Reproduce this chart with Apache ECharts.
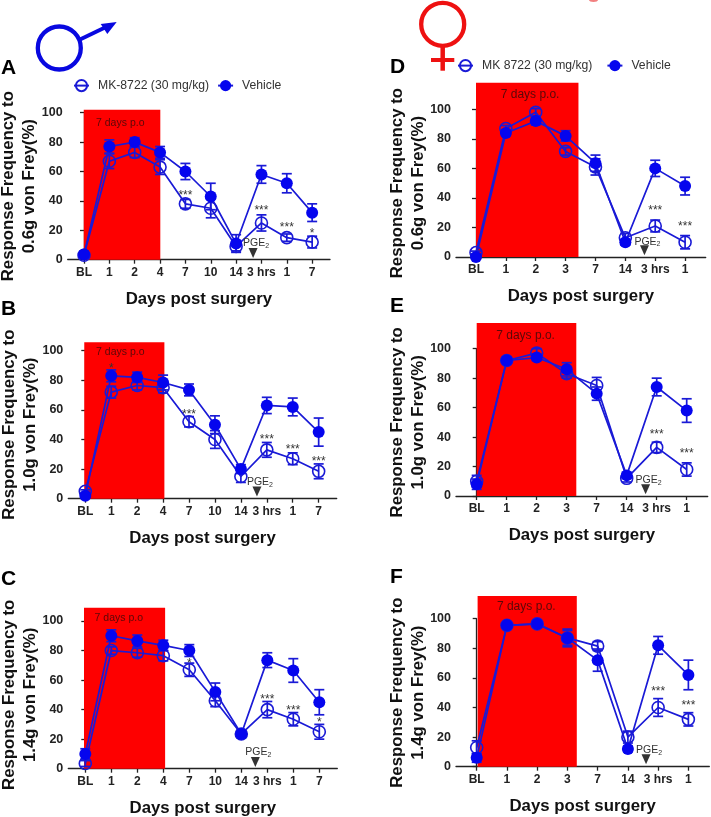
<!DOCTYPE html>
<html lang="en">

<head>
  <meta charset="UTF-8">
  <title>Response frequency</title>
  <script src="https://cdn.jsdelivr.net/npm/echarts@6/dist/echarts.min.js"></script>
  <style>
    * {
      margin: 0;
      padding: 0;
    }

    #main {
      width: 711px;
      height: 817px;
    }
  </style>
</head>

<body>
  <div id="main"></div>
</body>

<script>
  // x labels
  const daysMale = ['BL', '1', '2', '4', '7', '10', '14', '3 hrs', '1', '7'];
  const daysFemale = ['BL', '1', '2', '3', '7', '14', '3 hrs', '1'];

  // panel A
  const mkA = [3, 67, 73, 63, 38, 35, 9, 25, 15, 12];
  const mkErrA = [1, 5, 3.5, 5, 3, 6.5, 3, 5.5, 2.5, 4];
  const vehA = [3.5, 77, 80, 73, 60, 43, 11, 58, 52, 32];
  const vehErrA = [1, 4.5, 3, 4, 5.5, 9, 6, 6, 6.5, 6];
  const starsA = [[4, 45.5, '***'], [7, 35.6, '***'], [8, 24, '***'], [9, 19.5, '*']];

  // panel B
  const mkB = [5, 72, 76.5, 75, 52, 40, 15, 33, 27, 18.5];
  const mkErrB = [1, 4, 3, 3.5, 3.5, 6, 4, 5, 4, 5];
  const vehB = [2, 83, 82, 78.5, 73.5, 50, 20, 63, 62, 45];
  const vehErrB = [1, 4, 3.5, 5, 4, 6, 3, 5.5, 6, 9.5];
  const starsB = [[1, 90, '*'], [4, 59, '***'], [7, 42, '***'], [8, 35, '***'], [9, 27, '***']];

  // panel C
  const mkC = [3.5, 80, 78.5, 76.5, 67, 46, 23.5, 40, 33.5, 25];
  const mkErrC = [2, 2.5, 3, 3.5, 4.5, 4, 2.5, 5.5, 4.5, 5];
  const vehC = [10, 90, 86.5, 83.5, 80, 52, 23.5, 73.5, 66.5, 45];
  const vehErrC = [3.5, 4, 4, 3.5, 4, 6, 2, 5, 8, 8.5];
  const starsC = [[4, 73, '*'], [7, 49, '***'], [8, 41, '***'], [9, 33, '*']];

  // panel D
  const mkD = [3, 87, 98, 71.5, 61, 13, 21, 10];
  const mkErrD = [1, 2, 2.5, 2.5, 5.5, 3, 4, 4.5];
  const vehD = [0, 84, 92, 82, 63.5, 10, 60, 48];
  const vehErrD = [1, 2, 2.5, 3.5, 5.5, 2, 5.5, 6];
  const starsD = [[6, 33.6, '***'], [7, 22.3, '***']];

  // panel E
  const mkE = [10, 92, 97, 83, 75, 12, 33, 18];
  const mkErrE = [4, 1.5, 3, 3, 5.5, 2.5, 3.5, 4.5];
  const vehE = [8, 92, 94, 86, 69.5, 14, 74, 58];
  const vehErrE = [3.5, 2, 2, 4.5, 4.5, 2, 6, 8];
  const starsE = [[6, 43.4, '***'], [7, 31, '***']];

  // panel F
  const mkF = [13, 95.5, 96.5, 87, 81.5, 20, 40, 32];
  const mkErrF = [4.5, 2, 2, 6, 3, 4, 6, 4.5];
  const vehF = [6, 95.5, 96.5, 87, 72, 12, 82, 62];
  const vehErrF = [3, 2, 2, 5, 7.5, 2, 6, 10];
  const starsF = [[6, 52.7, '***'], [7, 43.2, '***']];

  // red block [from, to, top] and its caption [x, y]
  const redA = [-0.01, 3.01, 102], noteA = [1.43, 92.7];
  const redB = [-0.04, 3.05, 105.7], noteB = [1.35, 99.3];
  const redC = [-0.05, 3.07, 109], noteC = [1.29, 101.8];
  const redD = [0, 3.43, 118], noteD = [1.81, 109.7];
  const redE = [0, 3.32, 117.5], noteE = [1.63, 108.8];
  const redF = [0.03, 3.31, 115.3], noteF = [1.64, 108];

  // PGE2 marker [x, text y, triangle y]
  const pgeA = [6.67, 11, 4.5];
  const pgeB = [6.62, 11, 4.8];
  const pgeC = [6.54, 11, 4.5];
  const pgeD = [5.64, 10.4, 4.5];
  const pgeE = [5.63, 10.6, 4.5];
  const pgeF = [5.6, 11, 5];

  const COLOR_LINE = '#1a1ad6';
  const COLOR_FILL = '#0505ee';
  const FONT = '"Liberation Sans", Arial, sans-serif';

  // pixel box of each plot, bl = where BL sits, step = px per category
  const panels = [
    { l: 67.7, r: 330, t: 112.7, b: 259.7, bl: 84, step: 25.35, days: daysMale, mk: mkA, mkErr: mkErrA, veh: vehA, vehErr: vehErrA, stars: starsA, red: redA, note: noteA, noteText: '7 days p.o', noteSize: 10.5, pge: pgeA, g: '0.6g', mkName: 'MK-8722 (30 mg/kg)' },
    { l: 68.3, r: 336.7, t: 350.7, b: 498.7, bl: 85.3, step: 25.93, days: daysMale, mk: mkB, mkErr: mkErrB, veh: vehB, vehErr: vehErrB, stars: starsB, red: redB, note: noteB, noteText: '7 days p.o', noteSize: 10.5, pge: pgeB, g: '1.0g', mkName: 'MK-8722 (30 mg/kg)' },
    { l: 68.3, r: 337.3, t: 621, b: 768.7, bl: 85.3, step: 26, days: daysMale, mk: mkC, mkErr: mkErrC, veh: vehC, vehErr: vehErrC, stars: starsC, red: redC, note: noteC, noteText: '7 days p.o', noteSize: 10.5, pge: pgeC, g: '1.4g', mkName: 'MK-8722 (30 mg/kg)' },
    { l: 456, r: 705.7, t: 109.3, b: 257, bl: 476, step: 29.87, days: daysFemale, mk: mkD, mkErr: mkErrD, veh: vehD, vehErr: vehErrD, stars: starsD, red: redD, note: noteD, noteText: '7 days p.o.', noteSize: 12, pge: pgeD, g: '0.6g', mkName: 'MK 8722 (30 mg/kg)' },
    { l: 456, r: 707.7, t: 348.7, b: 496, bl: 476.7, step: 30, days: daysFemale, mk: mkE, mkErr: mkErrE, veh: vehE, vehErr: vehErrE, stars: starsE, red: redE, note: noteE, noteText: '7 days p.o.', noteSize: 12, pge: pgeE, g: '1.0g', mkName: 'MK 8722 (30 mg/kg)' },
    { l: 456, r: 709.3, t: 618.7, b: 766.7, bl: 476.7, step: 30.24, days: daysFemale, mk: mkF, mkErr: mkErrF, veh: vehF, vehErr: vehErrF, stars: starsF, red: redF, note: noteF, noteText: '7 days p.o.', noteSize: 12, pge: pgeF, g: '1.4g', mkName: 'MK 8722 (30 mg/kg)' }
  ];

  const grid = [], xAxis = [], yAxis = [], series = [];

  // error bars with caps
  function errorSeries(i, vals, errs, capW) {
    return {
      type: 'custom',
      xAxisIndex: i,
      yAxisIndex: i,
      z: 3,
      silent: true,
      data: vals.map((v, k) => [k, v - errs[k], v + errs[k]]),
      renderItem: function (params, api) {
        const lo = api.coord([api.value(0), api.value(1)]);
        const hi = api.coord([api.value(0), api.value(2)]);
        const st = { stroke: COLOR_LINE, lineWidth: 1.7, fill: 'none' };
        return {
          type: 'group',
          children: [
            { type: 'line', shape: { x1: lo[0], y1: lo[1], x2: hi[0], y2: hi[1] }, style: st },
            { type: 'line', shape: { x1: lo[0] - capW, y1: lo[1], x2: lo[0] + capW, y2: lo[1] }, style: st },
            { type: 'line', shape: { x1: hi[0] - capW, y1: hi[1], x2: hi[0] + capW, y2: hi[1] }, style: st }
          ]
        };
      }
    };
  }

  panels.forEach(function (p, i) {
    const ticks = p.days.map((d, k) => k);
    // outerBoundsMode none, the y names would squeeze the grid otherwise
    grid.push({ left: p.l, top: p.t, width: p.r - p.l, height: p.b - p.t, outerBoundsMode: 'none' });
    xAxis.push({
      type: 'value',
      gridIndex: i,
      min: (p.l - p.bl) / p.step,
      max: (p.r - p.bl) / p.step,
      splitLine: { show: false },
      axisLine: { onZero: false, lineStyle: { color: '#222', width: 1.3 } },
      axisTick: { customValues: ticks, length: 4, lineStyle: { color: '#222', width: 1.3 } },
      axisLabel: {
        customValues: ticks,
        formatter: v => p.days[v],
        margin: 7,
        color: '#222',
        fontFamily: FONT,
        fontWeight: 'bold',
        fontSize: 12
      },
      name: 'Days post surgery',
      nameLocation: 'middle',
      nameGap: 31,
      nameTextStyle: { color: '#111', fontFamily: FONT, fontWeight: 'bold', fontSize: 16.8 }
    });
    yAxis.push({
      type: 'value',
      gridIndex: i,
      min: 0,
      max: 100,
      interval: 20,
      splitLine: { show: false },
      axisLine: { show: true, lineStyle: { color: '#222', width: 1.3 } },
      axisTick: { show: true, length: 4, lineStyle: { color: '#222', width: 1.3 } },
      axisLabel: { margin: 5, color: '#222', fontFamily: FONT, fontWeight: 'bold', fontSize: 12.5 },
      name: 'Response Frequency to\n' + p.g + ' von Frey(%)',
      nameLocation: 'middle',
      nameRotate: 90,
      nameGap: 27.5,
      nameMoveOverlap: false,
      nameTextStyle: { color: '#111', fontFamily: FONT, fontWeight: 'bold', fontSize: 16.8, lineHeight: 21 }
    });

    // red block goes above the axis top, so custom with no clip
    series.push({
      type: 'custom',
      xAxisIndex: i,
      yAxisIndex: i,
      z: 1,
      silent: true,
      data: [p.red],
      renderItem: function (params, api) {
        const a = api.coord([api.value(0), api.value(2)]);
        const b = api.coord([api.value(1), 0]);
        return { type: 'rect', shape: { x: a[0], y: a[1], width: b[0] - a[0], height: b[1] - a[1] }, style: { fill: '#fe0000' } };
      }
    });

    series.push(errorSeries(i, p.mk, p.mkErr, 5));
    series.push(errorSeries(i, p.veh, p.vehErr, 5));

    series.push({
      name: p.mkName,
      type: 'line',
      xAxisIndex: i,
      yAxisIndex: i,
      z: 4,
      clip: false,
      silent: true,
      symbol: 'circle',
      symbolSize: 12,
      lineStyle: { color: COLOR_LINE, width: 1.7 },
      itemStyle: { color: 'transparent', borderColor: COLOR_LINE, borderWidth: 1.6 },
      data: p.mk.map((v, k) => [k, v])
    });
    series.push({
      name: 'Vehicle',
      type: 'line',
      xAxisIndex: i,
      yAxisIndex: i,
      z: 5,
      clip: false,
      silent: true,
      symbol: 'circle',
      symbolSize: 12,
      lineStyle: { color: COLOR_LINE, width: 1.7 },
      itemStyle: { color: COLOR_FILL },
      data: p.veh.map((v, k) => [k, v])
    });

    // stars, caption, PGE2 text
    series.push({
      type: 'custom',
      xAxisIndex: i,
      yAxisIndex: i,
      z: 6,
      silent: true,
      data: p.stars,
      renderItem: function (params, api) {
        const pt = api.coord([api.value(0), api.value(1)]);
        return {
          type: 'text',
          x: pt[0],
          y: pt[1] + 3,
          style: { text: p.stars[params.dataIndex][2], fill: '#333', font: '12px ' + FONT, textAlign: 'center', textVerticalAlign: 'middle' }
        };
      }
    });
    series.push({
      type: 'custom',
      xAxisIndex: i,
      yAxisIndex: i,
      z: 2,
      silent: true,
      data: [p.note],
      renderItem: function (params, api) {
        const pt = api.coord([api.value(0), api.value(1)]);
        return {
          type: 'text',
          x: pt[0],
          y: pt[1],
          style: { text: p.noteText, fill: '#5a0808', font: p.noteSize + 'px ' + FONT, textAlign: 'center', textVerticalAlign: 'middle' }
        };
      }
    });
    series.push({
      type: 'custom',
      xAxisIndex: i,
      yAxisIndex: i,
      z: 6,
      silent: true,
      data: [[p.pge[0], p.pge[1]]],
      renderItem: function (params, api) {
        const pt = api.coord([api.value(0), api.value(1)]);
        return {
          type: 'text',
          x: pt[0] + 3,
          y: pt[1],
          style: {
            text: '{a|PGE}{b|2}',
            align: 'center',
            verticalAlign: 'middle',
            rich: {
              a: { fill: '#333', fontSize: 10.5, fontFamily: FONT },
              b: { fill: '#333', fontSize: 7, fontFamily: FONT, padding: [5, 0, 0, 0] }
            }
          }
        };
      }
    });
    series.push({
      type: 'scatter',
      xAxisIndex: i,
      yAxisIndex: i,
      z: 6,
      silent: true,
      clip: false,
      symbol: 'triangle',
      symbolRotate: 180,
      symbolSize: [9, 10],
      itemStyle: { color: '#000' },
      data: [[p.pge[0], p.pge[2]]]
    });
  });

  // legends, one for each sex
  function legendAt(left, top, mkName, gap) {
    return {
      left: left,
      top: top,
      padding: 0,
      itemWidth: 15,
      itemHeight: 14,
      itemGap: gap,
      data: [mkName, 'Vehicle'],
      textStyle: { color: '#333', fontFamily: FONT, fontSize: 12.2, padding: [0, 0, 0, 4] }
    };
  }

  // panel letters and sex symbols are plain drawings
  function letter(text, x, y) {
    return {
      type: 'text',
      x: x,
      y: y,
      style: { text: text, fill: '#000', font: 'bold 21px ' + FONT, textVerticalAlign: 'middle' }
    };
  }

  const graphic = [
    letter('A', 1, 68),
    letter('B', 1, 309),
    letter('C', 1, 579),
    letter('D', 390, 67),
    letter('E', 390, 306),
    letter('F', 390, 577),
    // male
    { type: 'circle', shape: { cx: 59.3, cy: 48, r: 21.5 }, style: { fill: 'none', stroke: '#0808e0', lineWidth: 4.3 } },
    { type: 'line', shape: { x1: 80, y1: 39.5, x2: 106, y2: 27 }, style: { stroke: '#0808e0', lineWidth: 4 } },
    { type: 'polygon', shape: { points: [[116.7, 22], [100.7, 24], [107.3, 34]] }, style: { fill: '#0808e0' } },
    // female
    { type: 'circle', shape: { cx: 442.7, cy: 24.3, r: 21.5 }, style: { fill: 'none', stroke: '#ee1111', lineWidth: 4.3 } },
    { type: 'line', shape: { x1: 442.7, y1: 46, x2: 442.7, y2: 70.7 }, style: { stroke: '#ee1111', lineWidth: 4.5 } },
    { type: 'line', shape: { x1: 431, y1: 60, x2: 454.3, y2: 60 }, style: { stroke: '#ee1111', lineWidth: 4 } },
    { type: 'ellipse', shape: { cx: 593.5, cy: 0, rx: 4.5, ry: 2 }, style: { fill: '#f28080' } }
  ];

  const myChart = echarts.init(document.getElementById('main'));
  myChart.setOption({
    animation: false,
    textStyle: { fontFamily: FONT },
    legend: [legendAt(73, 79, panels[0].mkName, 8), legendAt(457, 59, panels[3].mkName, 14)],
    graphic: graphic,
    grid: grid,
    xAxis: xAxis,
    yAxis: yAxis,
    series: series
  });
</script>

</html>
